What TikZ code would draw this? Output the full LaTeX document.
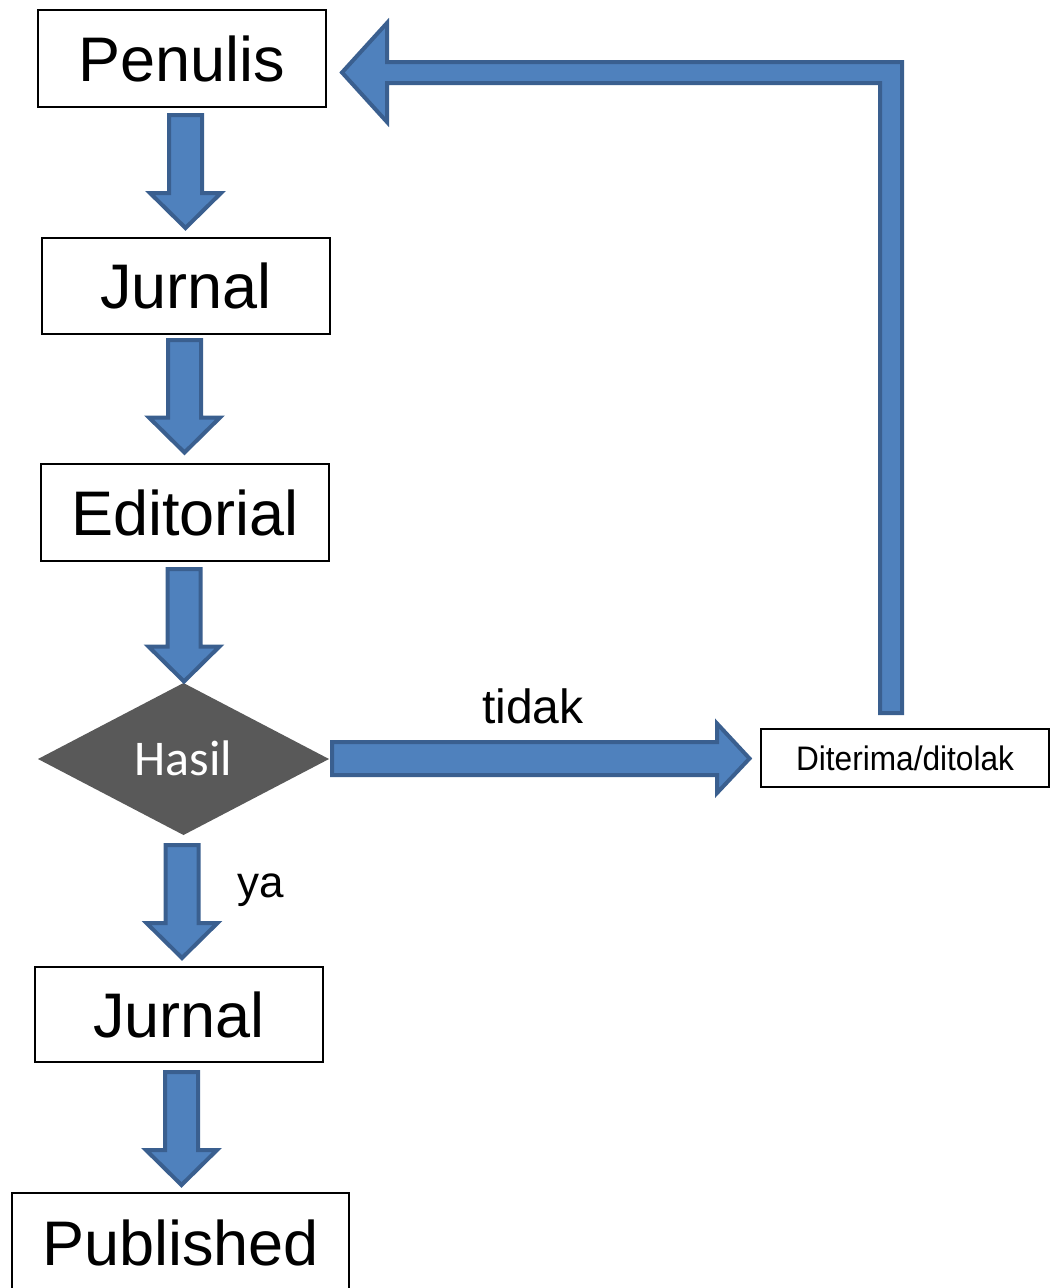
\documentclass[tikz,border=0pt]{standalone}
\usepackage{fontspec}
\setmainfont{Liberation Sans}
\newfontfamily\calibrifont{Carlito}
\definecolor{blkfill}{HTML}{4F81BD}
\definecolor{blkline}{HTML}{3A5F8F}
\definecolor{diafill}{HTML}{595959}
\newcommand\bigtxt{\fontsize{63}{70}\selectfont}
\newcommand\vblock[3]{%
  \filldraw[blk] (#1-16.5,#2) -- (#1+16.5,#2) -- (#1+16.5,#3-35) -- (#1+35.5,#3-35)
    -- (#1,#3) -- (#1-35.5,#3-35) -- (#1-16.5,#3-35) -- cycle;}
\begin{document}
\begin{tikzpicture}[x=1pt,y=-1pt,
  box/.style={draw=black,line width=1.4pt,fill=white,minimum width=288,
    inner sep=0pt,text height=45.4pt,text depth=0pt,font=\bigtxt},
  blk/.style={fill=blkfill,draw=blkline,line width=4pt,line join=miter}]
\useasboundingbox (0,0) rectangle (1051,1288);
\node[box,minimum height=97] (pen) at (182,58.5) {Penulis};
\node[box,minimum height=96] (jur1) at (186,286) {Jurnal};
\node[box,minimum height=97] (edi) at (185,512.5) {Editorial};
\node[box,minimum height=95] (jur2) at (179,1014.5) {Jurnal};
\node[box,minimum width=337,minimum height=99] (pub) at (180.5,1242.5) {Published};
\node[box,minimum height=58,font=\fontsize{34}{38}\selectfont,text height=24.5pt] (dit) at (905,758) {\scalebox{0.93}[1]{Diterima/ditolak}};
% decision diamond
\coordinate (hT) at (183.5,683);
\coordinate (hB) at (183.5,835);
\coordinate (hL) at (38,759);
\coordinate (hR) at (329,759);
\fill[diafill] (hT) -- (hR) -- (hB) -- (hL) -- cycle;
\node[text=white,inner sep=0pt,font=\calibrifont\fontsize{50}{56}\selectfont,
  text height=32.2pt,text depth=0pt] (has) at (183.5,759.5) {Hasil};
% block arrows
\vblock{185.5}{115}{228}
\vblock{184.5}{340}{452.5}
\vblock{184}{569}{681.5}
\vblock{182}{845}{958}
\vblock{181.5}{1072}{1185}
% tidak arrow
\filldraw[blk] (332,742) -- (717,742) -- (717,723.5) -- (749.5,758.5)
  -- (717,793) -- (717,775) -- (332,775) -- cycle;
% loop-back arrow
\filldraw[blk] (342,72.5) -- (387,23) -- (387,62) -- (902,62) -- (902,713)
  -- (880,713) -- (880,83) -- (387,83) -- (387,122) -- cycle;
% labels
\node[anchor=base,inner sep=0pt,font=\fontsize{48}{54}\selectfont] (tid) at (533,723) {tidak};
\node[anchor=base west,inner sep=0pt,font=\fontsize{44}{50}\selectfont] (ya) at (237,897) {ya};
\end{tikzpicture}
\end{document}
